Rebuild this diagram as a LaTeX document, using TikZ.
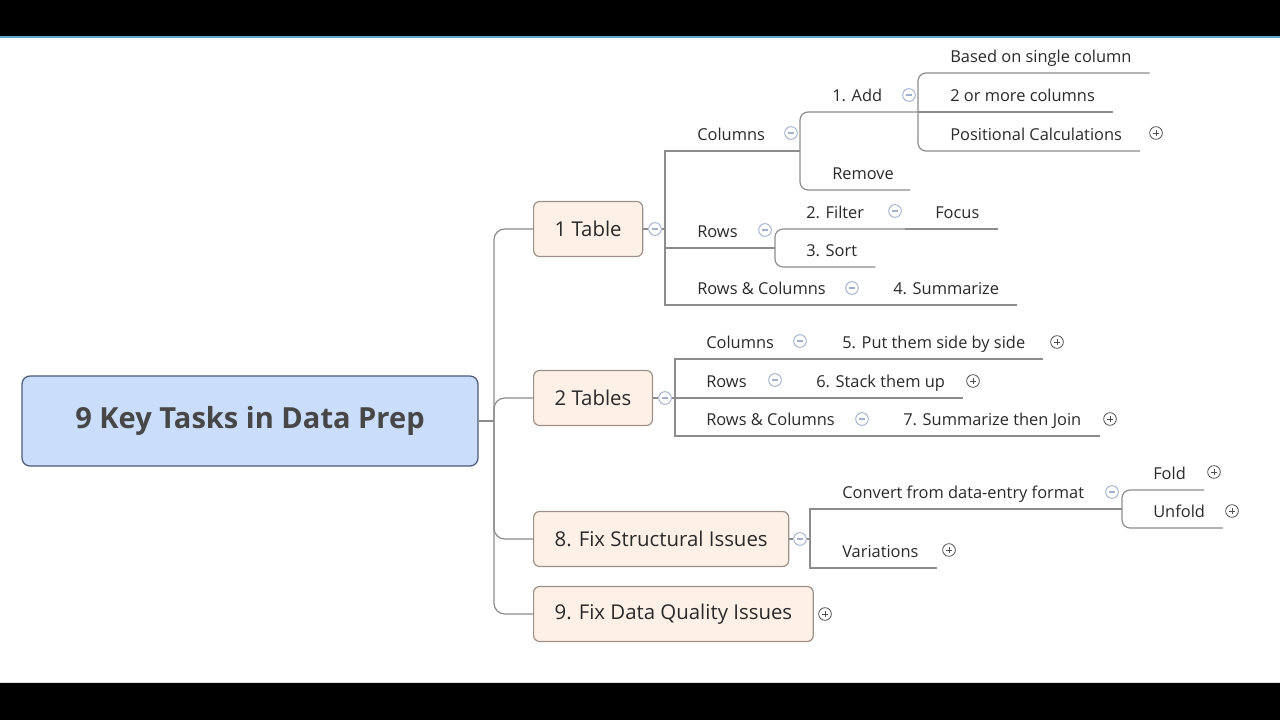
\documentclass[tikz,border=0pt]{standalone}
\usepackage{fontspec}
\setmainfont{Open Sans}
\usepackage{tikz}
\usetikzlibrary{positioning}

\definecolor{rootfill}{HTML}{CADDFB}
\definecolor{rootedge}{HTML}{4B5A78}
\definecolor{roottext}{HTML}{474747}
\definecolor{mainfill}{HTML}{FDF1E7}
\definecolor{mainedge}{HTML}{9C9088}
\definecolor{branch}{HTML}{8C8C8C}
\definecolor{ink}{HTML}{2A2A2A}
\definecolor{iconblue}{HTML}{A0B0D0}
\definecolor{icondark}{HTML}{505050}
\definecolor{topline}{HTML}{57AACA}

\begin{document}
\begin{tikzpicture}[x=0.75pt,y=-0.75pt,
  root/.style={draw=rootedge,fill=rootfill,rounded corners=6pt,line width=0.9pt,minimum width=342pt,minimum height=67.5pt,font=\fontsize{21.8}{25}\selectfont\bfseries,text=roottext},
  main/.style={draw=mainedge,fill=mainfill,rounded corners=4.5pt,line width=0.9pt,anchor=west,minimum height=41.25pt,inner xsep=15.75pt,font=\fontsize{15.3}{18}\selectfont,text=ink},
  topic/.style={anchor=south west,inner sep=0pt,text depth=7.9pt,font=\fontsize{12.3}{14}\selectfont,text=ink},
  br/.style={draw=branch,line width=0.9pt},
  cv/.style={br,rounded corners=6pt},
  minus/.style={circle,draw=iconblue,fill=white,line width=0.7pt,inner sep=0pt,minimum size=9.5pt,
    path picture={\draw[iconblue,line width=0.8pt] ([xshift=-2.4pt]path picture bounding box.center) -- ([xshift=2.4pt]path picture bounding box.center);}},
  plus/.style={circle,draw=icondark,fill=white,line width=0.6pt,inner sep=0pt,minimum size=9.5pt,
    path picture={\draw[icondark,line width=0.7pt] ([xshift=-2.4pt]path picture bounding box.center) -- ([xshift=2.4pt]path picture bounding box.center)
      ([yshift=-2.4pt]path picture bounding box.center) -- ([yshift=2.4pt]path picture bounding box.center);}}]
\useasboundingbox (0,0) rectangle (1280,720);
\fill[white] (0,0) rectangle (1280,720);
\fill[black] (0,0) rectangle (1280,36);
\fill[topline] (0,36) rectangle (1280,38.5);
\fill[gray!25] (0,681.5) rectangle (1280,683);
\fill[black] (0,683) rectangle (1280,720);

% central topic and main branches
\node[root] (root) at (250,421) {9 Key Tasks in Data Prep};
\node[main] (t1) at (533,229) {1 Table};
\node[main] (t2) at (533,398) {2 Tables};
\node[main] (t8) at (533,539) {8. Fix Structural Issues};
\node[main] (t9) at (533,614) {9. Fix Data Quality Issues};
\coordinate (hub) at (494,421);
\draw[br] (root.east) -- (hub);
\draw[br,rounded corners=8pt] (hub) |- (t1.west);
\draw[br,rounded corners=8pt] (hub) |- (t2.west);
\draw[br,rounded corners=8pt] (hub) |- (t8.west);
\draw[br,rounded corners=8pt] (hub) |- (t9.west);

% 1 Table
\node[minus] (t1m) at (655,229) {};
\coordinate (t1f) at (665,229);
\draw[br] (t1.east) -- (t1m);
\draw[br] (t1m) -- (t1f);
\node[topic] (c1) at (697,151) {Columns};
\node[minus] (c1m) at (791,133) {};
\coordinate (c1f) at (800,151);
\draw[br] (t1f) |- (c1f);
\node[topic] (add) at (832,112) {1. Add};
\node[minus] (addm) at (909,95) {};
\coordinate (addf) at (918,112);
\draw[cv] (c1f) |- (addf);
\node[topic] (rem) at (832,190) {Remove};
\draw[cv] (c1f) |- (rem.south east) -- ++(16,0);
\node[topic] (bsc) at (950,73) {Based on single column};
\draw[cv] (addf) |- (bsc.south east) -- ++(18,0);
\node[topic] (two) at (950,112) {2 or more columns};
\draw[br] (addf) -- (two.south east) -- ++(18,0);
\node[topic] (pos) at (950,151) {Positional Calculations};
\node[plus] (posp) at (1156,133) {};
\draw[cv] (addf) |- (pos.south east) -- ++(18,0);
\node[topic] (r1) at (697,248) {Rows};
\node[minus] (r1m) at (765,230) {};
\coordinate (r1f) at (775,248);
\draw[br] (t1f) |- (r1f);
\node[topic] (fil) at (806,229) {2. Filter};
\node[minus] (film) at (895,211) {};
\coordinate (filf) at (905,229);
\draw[cv] (r1f) |- (filf);
\node[topic] (foc) at (935,229) {Focus};
\draw[br] (filf) -- (foc.south east) -- ++(18,0);
\node[topic] (srt) at (806,267) {3. Sort};
\draw[cv] (r1f) |- (srt.south east) -- ++(18,0);
\node[topic] (rc1) at (697,305) {Rows \& Columns};
\node[minus] (rc1m) at (852,288) {};
\coordinate (rc1f) at (862,305);
\draw[br] (t1f) |- (rc1f);
\node[topic] (sum) at (893,305) {4. Summarize};
\draw[br] (rc1f) -- (sum.south east) -- ++(18,0);

% 2 Tables
\node[minus] (t2m) at (665,398) {};
\coordinate (t2f) at (675,398);
\draw[br] (t2.east) -- (t2m);
\draw[br] (t2m) -- (t2f);
\node[topic] (c2) at (706,359) {Columns};
\node[minus] (c2m) at (800,341) {};
\coordinate (c2f) at (810,359);
\draw[br] (t2f) |- (c2f);
\node[topic] (side) at (842,359) {5. Put them side by side};
\node[plus] (sidep) at (1057,342) {};
\draw[br] (c2f) -- (side.south east) -- ++(18,0);
\node[topic] (r2) at (706,398) {Rows};
\node[minus] (r2m) at (775,380) {};
\coordinate (r2f) at (785,398);
\draw[br] (t2f) -- (r2f);
\node[topic] (stk) at (816,398) {6. Stack them up};
\node[plus] (stkp) at (973,381) {};
\draw[br] (r2f) -- (stk.south east) -- ++(18,0);
\node[topic] (rc2) at (706,436) {Rows \& Columns};
\node[minus] (rc2m) at (862,419) {};
\coordinate (rc2f) at (872,436);
\draw[br] (t2f) |- (rc2f);
\node[topic] (join) at (903,436) {7. Summarize then Join};
\node[plus] (joinp) at (1110,419) {};
\draw[br] (rc2f) -- (join.south east) -- ++(18,0);

% 8. Fix Structural Issues
\node[minus] (t8m) at (800,539) {};
\coordinate (t8f) at (810,539);
\draw[br] (t8.east) -- (t8m);
\draw[br] (t8m) -- (t8f);
\node[topic] (conv) at (842,509) {Convert from data-entry format};
\node[minus] (convm) at (1112,492) {};
\coordinate (convf) at (1122,509);
\draw[br] (t8f) |- (convf);
\node[topic] (fold) at (1153,490) {Fold};
\node[plus] (foldp) at (1214,472) {};
\draw[cv] (convf) |- (fold.south east) -- ++(18,0);
\node[topic] (unf) at (1153,528) {Unfold};
\node[plus] (unfp) at (1232,511) {};
\draw[cv] (convf) |- (unf.south east) -- ++(18,0);
\node[topic] (var) at (842,568) {Variations};
\node[plus] (varp) at (949,550) {};
\draw[br] (t8f) |- (var.south east) -- ++(18,0);

% 9. Fix Data Quality Issues
\node[plus] (t9p) at (825,614) {};
\end{tikzpicture}
\end{document}
